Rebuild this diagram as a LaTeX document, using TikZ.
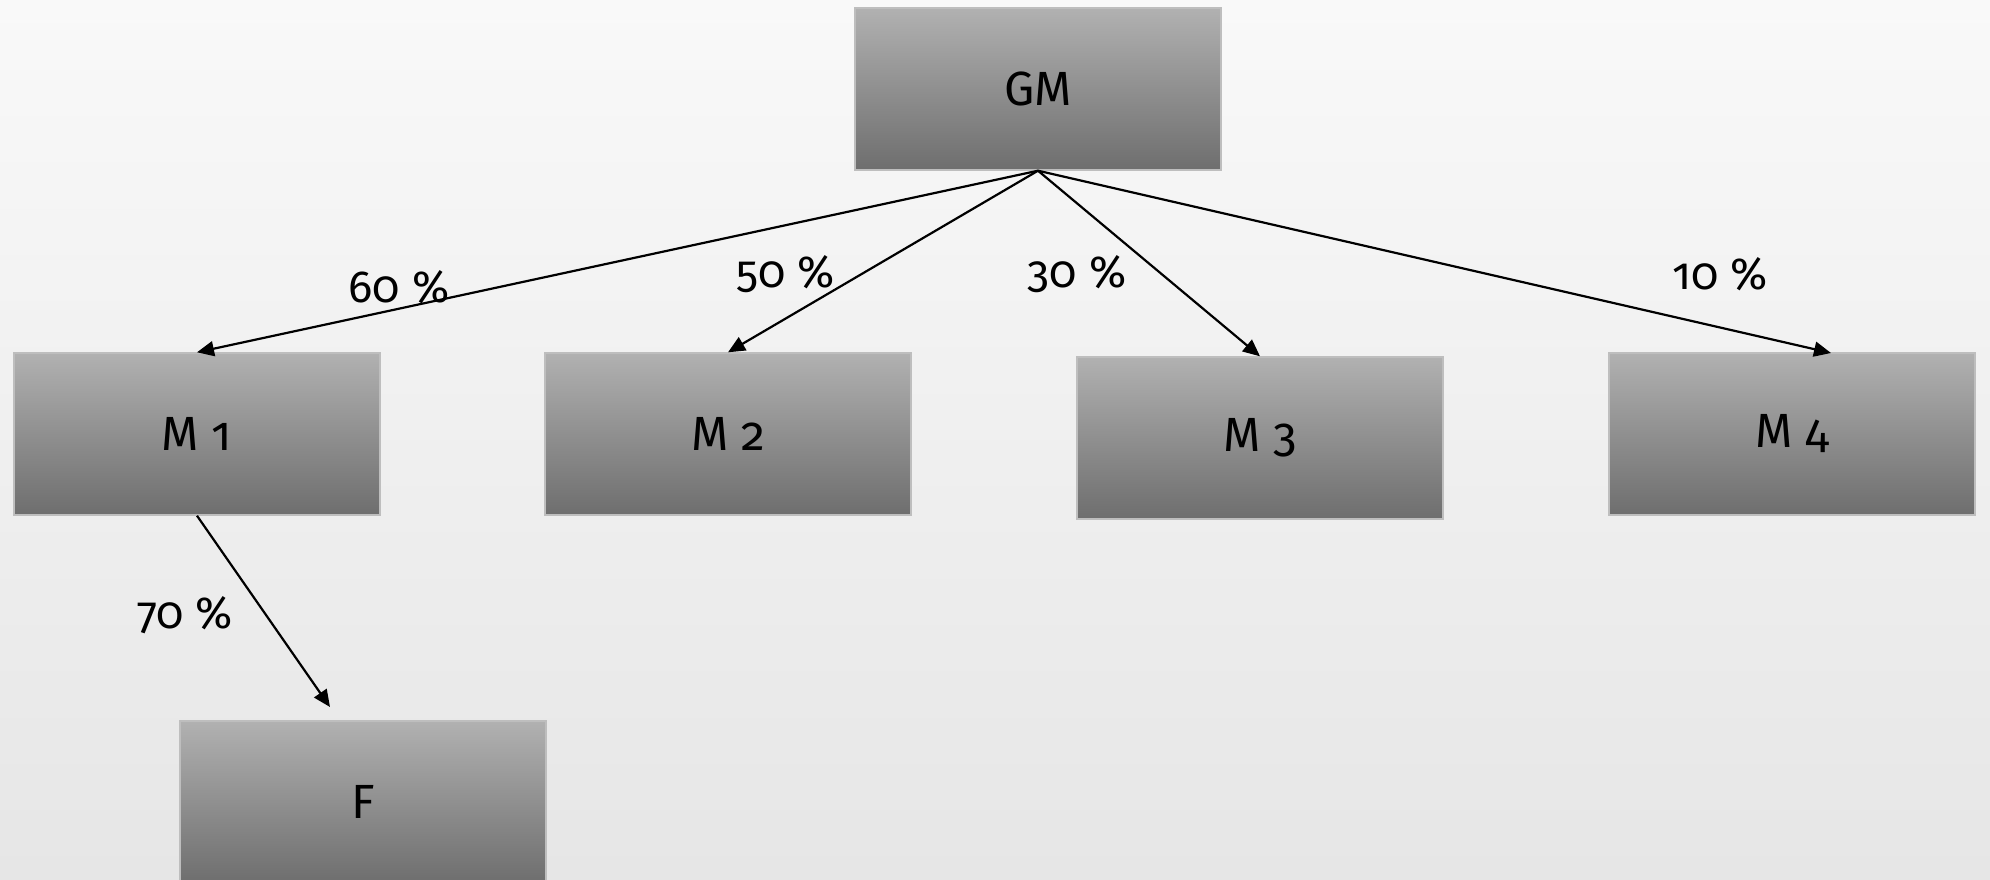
\documentclass[tikz,border=0pt]{standalone}
\usepackage{fontspec}
\setmainfont[Numbers=OldStyle]{Fira Sans}
\usetikzlibrary{arrows.meta}
\definecolor{bgtop}{RGB}{249,249,249}
\definecolor{bgbot}{RGB}{230,230,230}
\definecolor{boxtop}{RGB}{177,177,177}
\definecolor{boxbot}{RGB}{110,110,110}
\definecolor{boxline}{RGB}{190,190,190}
\tikzset{
  mbox/.style={rectangle, inner sep=0pt, minimum width=183pt, minimum height=81pt,
    top color=boxtop, bottom color=boxbot, draw=boxline, line width=0.7pt,
    font=\fontsize{24}{28}\selectfont, text=black},
  conn/.style={-{Triangle[length=8.5pt,width=7.5pt]}, line width=1.1pt, black},
  pct/.style={font=\fontsize{22.5}{27}\selectfont, inner sep=0pt}
}
\begin{document}
\begin{tikzpicture}[x=0.5pt,y=-0.5pt]
\useasboundingbox (0,0) rectangle (1990,879);
\clip (0,0) rectangle (1990,879);
\shade[top color=bgtop, bottom color=bgbot] (0,0) rectangle (1990,879);
\node[mbox] (GM) at (1038,89) {GM};
\node[mbox] (M1) at (197,434) {M 1};
\node[mbox] (M2) at (728,434) {M 2};
\node[mbox] (M3) at (1260,438) {M 3};
\node[mbox] (M4) at (1792,434) {M 4};
\node[mbox] (F) at (363,802) {F};
\coordinate (m4in) at (1831,353);
\coordinate (fin) at (330,707);
\draw[conn] (GM.south) -- (M1.north);
\draw[conn] (GM.south) -- (M2.north);
\draw[conn] (GM.south) -- (M3.north);
\draw[conn] (GM.south) -- (m4in);
\draw[conn] (M1.south) -- (fin);
\node[pct] (l60) at (399,287) {60 \%};
\node[pct] (l50) at (786,274) {50 \%};
\node[pct] (l30) at (1077,274) {30 \%};
\node[pct] (l10) at (1720,274) {10 \%};
\node[pct] (l70) at (185,615) {70 \%};
\end{tikzpicture}
\end{document}
